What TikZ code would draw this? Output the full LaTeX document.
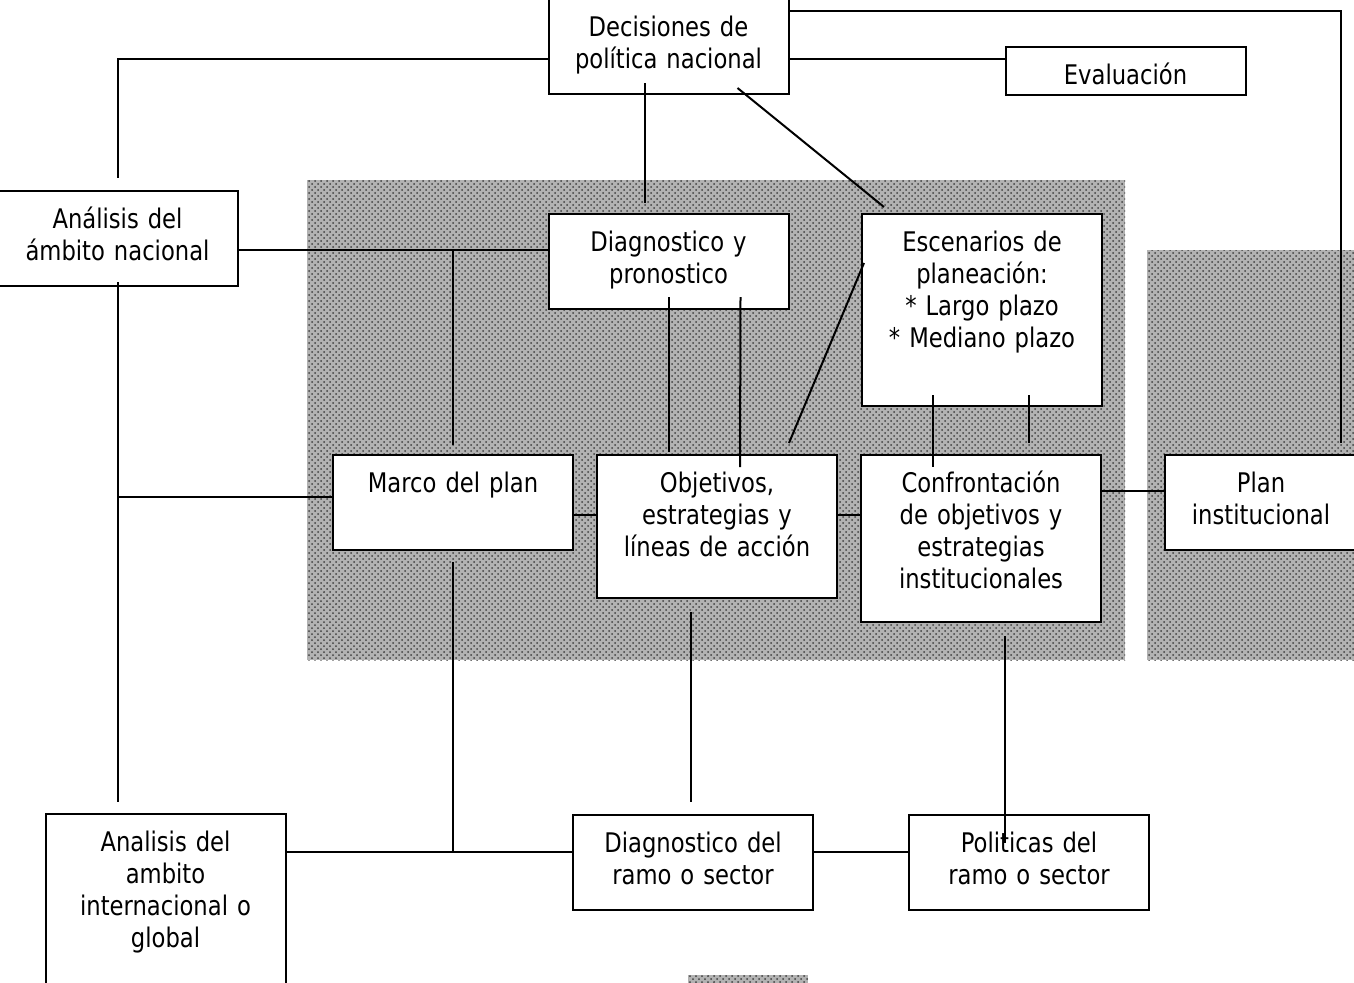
\documentclass[tikz,border=0pt]{standalone}
\usepackage{fontspec}
\setmainfont{DejaVu Sans}[FakeStretch=0.84]
\usetikzlibrary{positioning}
\usetikzlibrary{calc}
\usetikzlibrary{patterns}

\begin{document}
\begin{tikzpicture}[x=0.5pt, y=-0.5pt, line width=1pt,
    caja/.style={draw, fill=white, anchor=north, align=center, inner sep=0pt,
      outer sep=0pt, text width=120pt, text height=18.5pt,
      font=\fontsize{13.5}{16}\selectfont},
    fondo/.style={fill=black!30, postaction={pattern=crosshatch dots, pattern color=black!75}}]
    \useasboundingbox (0,0) rectangle (1354,982);

    % zonas sombreadas
    \path[fondo] (307,180) rectangle (1125,660);
    \path[fondo] (1147,250) rectangle (1360,660);
    \path[fondo] (688,975) rectangle (808,990);

    % cajas
    \node [caja, text height=20.5pt, text depth=29pt] (dec) at (668.5,-5) {Decisiones de\\política nacional};
    \node [caja, text depth=5.5pt] (evalu) at (1125.5,47) {Evaluación};
    \node [caja, text depth=29pt] (anac) at (117.5,191) {Análisis del\\ámbito nacional};
    \node [caja, text depth=29pt] (diagp) at (668.5,214) {Diagnostico y\\pronostico};
    \node [caja, text depth=77.5pt] (esc) at (982,214) {Escenarios de\\planeación:\\{*} Largo plazo\\{*} Mediano plazo};
    \node [caja, text depth=29pt] (marco) at (453,455) {Marco del plan};
    \node [caja, text depth=53pt] (obj) at (717,455) {Objetivos,\\estrategias y\\líneas de acción};
    \node [caja, text depth=65pt] (conf) at (981,455) {Confrontación\\de objetivos y\\estrategias\\institucionales};
    \node [caja, text depth=29pt, text width=96pt] (plan) at (1261,455) {Plan\\institucional};
    \node [caja, text depth=77.5pt] (aint) at (165.5,814) {Analisis del\\ambito\\internacional o\\global};
    \node [caja, text depth=29pt] (dramo) at (693,815) {Diagnostico del\\ramo o sector};
    \node [caja, text depth=29pt] (pol) at (1029,815) {Politicas del\\ramo o sector};

    % conexiones de arriba
    \draw ($(dec.south west)+(0,-35)$) -| ($(anac.north)+(0,-13)$);
    \draw ($(dec.north east)+(0,16)$) -| ($(plan.north east)+(-16,-12)$);
    \draw ($(dec.south east)+(0,-35)$) -- ($(evalu.north west)+(0,12)$);
    \draw ($(dec.south)+(-24,-11)$) -- ($(diagp.north)+(-24,-11)$);
    \draw ($(dec.south)+(69,-6)$) -- ($(esc.north west)+(22,-7)$);

    % ambito nacional
    \draw ($(anac.north east)+(0,59)$) coordinate (a1) -- (a1 -| diagp.west);
    \draw (a1 -| marco.north) -- ($(marco.north)+(0,-10)$);
    \draw ($(anac.south)+(0,-4)$) -- ($(anac.south |- aint.north)+(0,-12)$);
    \draw ($(marco.north west)+(0,42)$) coordinate (m1) -- (m1 -| anac.south);

    % fila del medio
    \draw ($(marco.north east)+(0,60)$) -- ($(obj.north west)+(0,60)$);
    \draw ($(obj.north east)+(0,60)$) -- ($(conf.north west)+(0,60)$);
    \draw ($(conf.north east)+(0,36)$) -- ($(plan.north west)+(0,36)$);
    \draw ($(diagp.south)+(0,-12)$) -- ($(diagp.south |- obj.north)+(0,-3)$);
    \draw ($(diagp.south)+(72,-12)$) -- ($(obj.north)+(23,12)$);
    \draw ($(esc.south)+(-49,-11)$) -- ($(conf.north)+(-48,12)$);
    \draw ($(esc.south)+(47,-11)$) -- ($(conf.north)+(48,-12)$);
    \draw ($(esc.north west)+(2,49)$) -- ($(obj.north east)+(-48,-12)$);

    % fila de abajo
    \draw ($(aint.north east)+(0,38)$) coordinate (b1) -- (b1 -| dramo.west);
    \draw ($(marco.south)+(0,12)$) -- (marco.south |- b1);
    \draw ($(obj.south)+(-26,14)$) -- ($(dramo.north)+(-2,-13)$);
    \draw ($(dramo.north east)+(0,37)$) -- ($(pol.north west)+(0,37)$);
    \draw ($(conf.south)+(24,14)$) -- ($(pol.north)+(-24,28)$);
\end{tikzpicture}
\end{document}
